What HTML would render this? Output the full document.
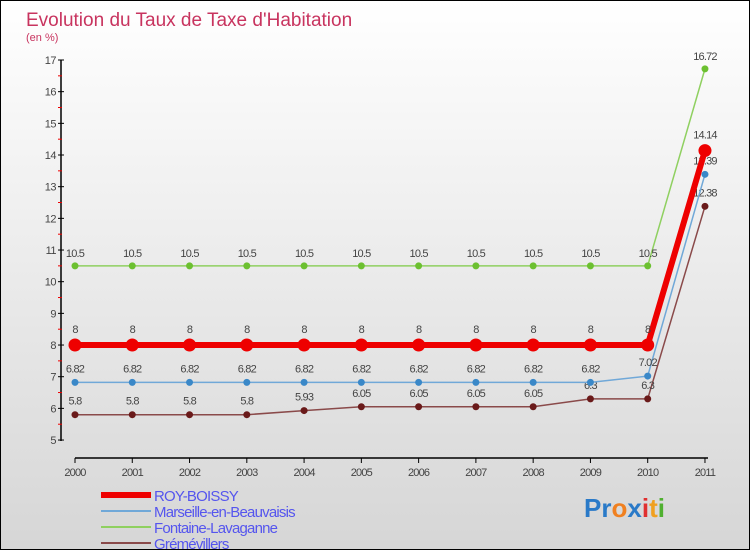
<!DOCTYPE html>
<html><head><meta charset="utf-8"><style>
body{margin:0;width:750px;height:550px;overflow:hidden;font-family:"Liberation Sans",sans-serif}
#wrap{position:relative;width:748px;height:548px;border:1px solid #000;background:linear-gradient(#ffffff,#d6d6d6)}
</style></head><body>
<div id="wrap">
<svg id="chart" width="748" height="548" viewBox="0 0 748 548" style="position:absolute;left:0;top:0"></svg>
</div>
<script>
const years=[2000,2001,2002,2003,2004,2005,2006,2007,2008,2009,2010,2011];
const roy=[8,8,8,8,8,8,8,8,8,8,8,14.14];
const marseille=[6.82,6.82,6.82,6.82,6.82,6.82,6.82,6.82,6.82,6.82,7.02,13.39];
const fontaine=[10.5,10.5,10.5,10.5,10.5,10.5,10.5,10.5,10.5,10.5,10.5,16.72];
const gremevillers=[5.8,5.8,5.8,5.8,5.93,6.05,6.05,6.05,6.05,6.3,6.3,12.38];
const yTicks=[5,6,7,8,9,10,11,12,13,14,15,16,17];
const seriesNames=["ROY-BOISSY","Marseille-en-Beauvaisis","Fontaine-Lavaganne","Grémévillers"];

const NS="http://www.w3.org/2000/svg";
const svg=document.getElementById('chart');
const x=i=>74+i*57.27;
const y=v=>59+(17-v)*31.67;
function el(t,a,p){const e=document.createElementNS(NS,t);for(const k in a)e.setAttribute(k,a[k]);(p||svg).appendChild(e);return e;}

let t=el('text',{x:25,y:25,fill:'#c8345f','font-size':19});t.textContent='Evolution du Taux de Taxe d\'Habitation';

t=el('text',{x:25,y:40,fill:'#c8345f','font-size':11});t.textContent='(en %)';


// axes
let a=el('line',{x1:60,y1:59,x2:60,y2:440,stroke:'#000','stroke-width':1.5});

a=el('line',{x1:74,y1:457,x2:707,y2:457,stroke:'#000','stroke-width':1.5});

yTicks.forEach(v=>{
 el('line',{x1:57,y1:y(v),x2:63,y2:y(v),stroke:'#000'});
 if(v<17)el('line',{x1:57,y1:y(v+0.5),x2:61,y2:y(v+0.5),stroke:'#e00'});
 const l=el('text',{x:55,y:y(v)+4,'text-anchor':'end','font-size':11,fill:'#444','letter-spacing':'-0.5'});l.textContent=v;
 
});
years.forEach((yr,i)=>{
 el('line',{x1:x(i),y1:457,x2:x(i),y2:462,stroke:'#000'});
 const l=el('text',{x:x(i),y:475,'text-anchor':'middle','font-size':11,fill:'#444','letter-spacing':'-0.8'});l.textContent=yr;
 
});

function series(data,color,dot,w,r,name,labelOff){
 const g=el('g',{});
 
 el('polyline',{points:data.map((v,i)=>x(i)+','+y(v)).join(' '),fill:'none',stroke:color,'stroke-width':w},g);
 data.forEach((v,i)=>{
  const c=el('circle',{cx:x(i),cy:y(v),r:r,fill:dot},g);
  
  const l=el('text',{x:x(i),y:y(v)-labelOff,'text-anchor':'middle','font-size':11,fill:'#444','letter-spacing':'-0.8'},g);
  l.textContent=v;
  
 });
}
series(fontaine,'#8fd060','#6cc030',1.5,3.5,'series-fontaine',9);
series(gremevillers,'#8a4a4a','#6a1a1a',1.5,3.5,'series-gremevillers',10);
series(marseille,'#70a8d8','#3a88c8',1.5,3.5,'series-marseille',10);
series(roy,'#ee0000','#ee0000',6,6.5,'series-roy-boissy',12);

// legend
const lc=['#ee0000','#70a8d8','#8fd060','#8a4a4a'],lw=[6,2,2,2];
seriesNames.forEach((n,i)=>{
 const yy=494+i*16;
 const ln=el('line',{x1:100,y1:yy,x2:150,y2:yy,stroke:lc[i],'stroke-width':lw[i]});
 
 const l=el('text',{x:153,y:yy+6,'font-size':15,fill:'#5555ee','letter-spacing':'-0.8'});l.textContent=n;
 
});
// logo
const lg=el('text',{x:583,y:516,'font-size':26,'font-weight':'bold','letter-spacing':'0'});

[['P','#2a7ac8'],['r','#2a7ac8'],['o','#f08020'],['x','#2a7ac8'],['i','#e03030'],['t','#f0a020'],['i','#50b030']].forEach(([c,f])=>{const s=el('tspan',{fill:f},lg);s.textContent=c;});
</script>
</body></html>
